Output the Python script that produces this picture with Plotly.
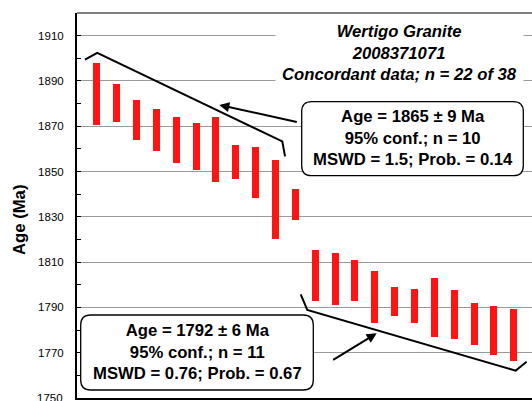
import plotly.graph_objects as go

# Concordant zircon analyses: 2-sigma age ranges (Ma), ordered by age
analysis = list(range(1, 23))
age_low = [1870.7, 1871.7, 1864.0, 1858.9, 1853.7, 1850.5, 1845.2, 1846.8, 1838.1, 1820.4, 1828.7,
           1792.9, 1791.2, 1792.7, 1783.3, 1786.2, 1783.3, 1776.8, 1776.2, 1773.4, 1769.1, 1766.2]
age_high = [1897.9, 1888.8, 1881.4, 1877.4, 1874.0, 1871.4, 1873.9, 1861.5, 1860.8, 1854.9, 1842.5,
            1815.5, 1814.0, 1811.0, 1806.0, 1799.2, 1798.0, 1803.0, 1797.6, 1792.0, 1790.5, 1789.5]

# Brackets grouping the two age populations
older_group_x = [0.40, 1.02, 10.34, 10.48]
older_group_y = [1899.4, 1902.4, 1863.3, 1856.7]
younger_group_x = [11.27, 11.60, 22.10, 22.65]
younger_group_y = [1795.8, 1788.9, 1762.1, 1766.0]

y_ticks = [1750, 1770, 1790, 1810, 1830, 1850, 1870, 1890, 1910]

title_text = "<b><i>Wertigo Granite<br>2008371071<br>Concordant data; n = 22 of 38</i></b>"
older_text = "<b>Age = 1865 ± 9 Ma<br>95% conf.; n = 10<br>MSWD = 1.5; Prob. = 0.14</b>"
younger_text = "<b>Age = 1792 ± 6 Ma<br>95% conf.; n = 11<br>MSWD = 0.76; Prob. = 0.67</b>"

# Page geometry (pixels)
W, H = 532, 401
ML, MR, MT, MB = 77, 0, 13, 3
PW, PH = W - ML - MR, H - MT - MB
X_RANGE = [0.0, 22.92]
Y_RANGE = [1750, 1920]

FONT = "Liberation Sans, Arial, sans-serif"
TXT = 16.7
TICK = 11.5


def dx(px):
    return X_RANGE[0] + (px - ML) / PW * (X_RANGE[1] - X_RANGE[0])


def dy(py):
    return Y_RANGE[0] + (MT + PH - py) / PH * (Y_RANGE[1] - Y_RANGE[0])


def px_x(px):
    return (px - ML) / PW


def px_y(py):
    return (MT + PH - py) / PH


def rounded_box(x0, y0, x1, y1, r):
    pts = [
        f"M{dx(x0 + r)},{dy(y0)}",
        f"L{dx(x1 - r)},{dy(y0)}",
        f"Q{dx(x1)},{dy(y0)} {dx(x1)},{dy(y0 + r)}",
        f"L{dx(x1)},{dy(y1 - r)}",
        f"Q{dx(x1)},{dy(y1)} {dx(x1 - r)},{dy(y1)}",
        f"L{dx(x0 + r)},{dy(y1)}",
        f"Q{dx(x0)},{dy(y1)} {dx(x0)},{dy(y1 - r)}",
        f"L{dx(x0)},{dy(y0 + r)}",
        f"Q{dx(x0)},{dy(y0)} {dx(x0 + r)},{dy(y0)}",
        "Z",
    ]
    return " ".join(pts)


fig = go.Figure()

fig.add_trace(go.Bar(
    x=analysis,
    y=[h - l for h, l in zip(age_high, age_low)],
    base=age_low,
    width=0.35,
    marker=dict(color="#ff1414", line=dict(width=0)),
    showlegend=False,
))

for gx, gy in [(older_group_x, older_group_y), (younger_group_x, younger_group_y)]:
    fig.add_trace(go.Scatter(
        x=gx, y=gy, mode="lines",
        line=dict(color="black", width=2),
        showlegend=False, hoverinfo="skip",
    ))

shapes = [
    dict(type="line", xref="paper", yref="paper", x0=0, x1=1, y0=1, y1=1,
         line=dict(color="black", width=1), layer="above"),
    dict(type="path", xref="x", yref="y", path=rounded_box(301.7, 101.7, 523.3, 175.7, 10),
         fillcolor="white", line=dict(color="black", width=1.3), layer="above"),
    dict(type="path", xref="x", yref="y", path=rounded_box(80.7, 315, 313.3, 390, 10),
         fillcolor="white", line=dict(color="black", width=1.3), layer="above"),
]

annotations = [
    dict(text=title_text, xref="paper", yref="paper", x=px_x(399), y=px_y(53),
         xanchor="center", yanchor="middle", showarrow=False, bgcolor="white", borderpad=6,
         font=dict(family=FONT, size=TXT, color="black")),
    dict(text=older_text, xref="paper", yref="paper", x=px_x(412.5), y=px_y(138),
         xanchor="center", yanchor="middle", showarrow=False,
         font=dict(family=FONT, size=TXT, color="black")),
    dict(text=younger_text, xref="paper", yref="paper", x=px_x(197), y=px_y(352),
         xanchor="center", yanchor="middle", showarrow=False,
         font=dict(family=FONT, size=TXT, color="black")),
    dict(text="<b>Age (Ma)</b>", xref="paper", yref="paper", x=px_x(19), y=px_y(220),
         xanchor="center", yanchor="middle", showarrow=False, textangle=-90,
         font=dict(family=FONT, size=TXT, color="black")),
    # lowest tick label sits on the page edge, so it is placed explicitly
    dict(text=str(y_ticks[0]), xref="paper", yref="y", x=px_x(65), y=y_ticks[0],
         xanchor="right", yanchor="middle", showarrow=False,
         font=dict(family=FONT, size=TICK, color="black")),
    # arrows pointing from the result boxes to their brackets
    dict(text="", xref="x", yref="y", x=dx(219.3), y=dy(105), ax=79, ay=17.3,
         showarrow=True, arrowhead=2, arrowsize=1, arrowwidth=2, arrowcolor="black"),
    dict(text="", xref="x", yref="y", x=dx(376.7), y=dy(333.3), ax=-45, ay=27.4,
         showarrow=True, arrowhead=2, arrowsize=1, arrowwidth=2, arrowcolor="black"),
]

fig.update_layout(
    width=W, height=H,
    margin=dict(l=ML, r=MR, t=MT, b=MB, pad=0),
    paper_bgcolor="white", plot_bgcolor="white",
    font=dict(family=FONT, color="black"),
    shapes=shapes, annotations=annotations,
    bargap=0,
)

fig.update_xaxes(
    range=X_RANGE, showgrid=False, zeroline=False, showticklabels=False, ticks="",
    showline=True, linecolor="black", linewidth=2,
)
fig.update_yaxes(
    range=Y_RANGE, tickvals=y_ticks[1:], ticktext=[str(v) for v in y_ticks[1:]],
    ticks="inside", ticklen=4, tickwidth=1, tickcolor="black",
    minor=dict(dtick=10, tick0=1750, ticks="inside", ticklen=4, tickwidth=1, tickcolor="black", showgrid=False),
    showgrid=True, gridcolor="#9a9a9a", gridwidth=1, zeroline=False,
    showline=True, linecolor="black", linewidth=2,
    tickfont=dict(family=FONT, size=TICK, color="black"),
    ticklabelstandoff=9,
)

fig.write_html("out.html", config={"displayModeBar": False})
